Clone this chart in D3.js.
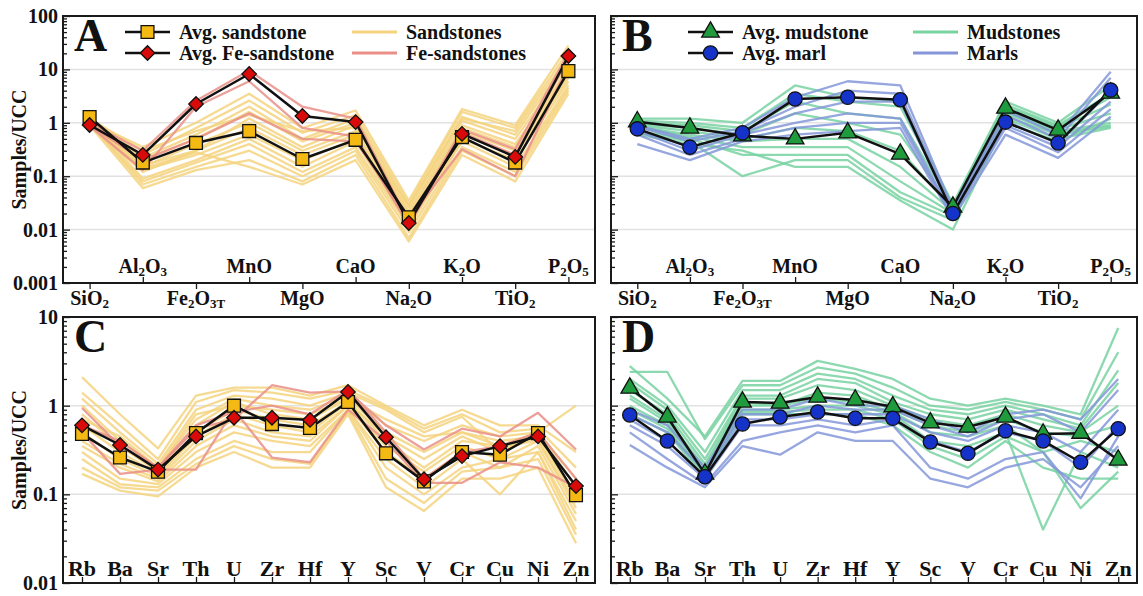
<!DOCTYPE html>
<html lang="en">
<head>
<meta charset="UTF-8">
<title>UCC-normalised spider diagrams</title>
<script src="https://d3js.org/d3.v7.min.js"></script>
<style>
    body { margin: 0; background: #fff; }
    svg text {
        font-family: "Liberation Serif", "Times New Roman", serif;
        font-weight: bold;
        fill: #111;
    }
    .frame { fill: none; stroke: #1a1a1a; stroke-width: 2; }
    .grid line { stroke: #e2e2e2; stroke-width: 1.5; }
    .axis path { display: none; }
    .axis line { stroke: #1a1a1a; stroke-width: 1.3; }
    .sample { fill: none; stroke-width: 2.3; stroke-linejoin: round; }
    .avg-line { fill: none; stroke: #111; stroke-width: 2.5; stroke-linejoin: round; }
    .marker { stroke: #111; stroke-width: 1.3; }
</style>
</head>
<body>
<svg width="1143" height="596"></svg>

<script>
// ---- categories / ticks
var oxides = ["SiO2", "Al2O3", "Fe2O3T", "MnO", "MgO", "CaO", "Na2O", "K2O", "TiO2", "P2O5"];
var traces = ["Rb", "Ba", "Sr", "Th", "U", "Zr", "Hf", "Y", "Sc", "V", "Cr", "Cu", "Ni", "Zn"];
var yTicksMajor = [100, 10, 1, 0.1, 0.01, 0.001];
var yTicksTrace = [10, 1, 0.1, 0.01];

// ---- A: major elements, sandstones
var sandstonesMajor = [
    [1.05, 0.35, 1.0, 3.5, 0.8, 1.7, 0.035, 1.8, 0.9, 28],
    [1.1, 0.25, 0.8, 2.6, 0.65, 1.4, 0.03, 1.6, 0.8, 22],
    [1.0, 0.22, 0.6, 2.0, 0.5, 1.2, 0.026, 1.3, 0.6, 15],
    [0.95, 0.2, 0.5, 1.6, 0.45, 1.0, 0.022, 1.1, 0.5, 12],
    [1.15, 0.16, 0.3, 1.2, 0.35, 0.9, 0.02, 0.9, 0.4, 10],
    [1.0, 0.15, 0.4, 1.0, 0.3, 0.7, 0.018, 0.8, 0.35, 9],
    [0.9, 0.12, 0.3, 0.8, 0.25, 0.6, 0.015, 0.7, 0.3, 8],
    [1.05, 0.13, 0.25, 0.6, 0.2, 0.5, 0.014, 0.6, 0.25, 7],
    [1.1, 0.09, 0.2, 0.5, 0.15, 0.45, 0.012, 0.5, 0.2, 6],
    [0.95, 0.08, 0.18, 0.4, 0.12, 0.35, 0.011, 0.45, 0.15, 5],
    [1.0, 0.07, 0.15, 0.3, 0.1, 0.3, 0.009, 0.35, 0.12, 4.5],
    [0.9, 0.06, 0.13, 0.2, 0.08, 0.25, 0.007, 0.3, 0.1, 4],
    [1.2, 0.3, 0.7, 1.4, 0.7, 0.8, 0.028, 1.2, 0.7, 18],
    [0.85, 0.14, 0.28, 0.15, 0.07, 0.2, 0.006, 0.25, 0.08, 3.5]
];
var feSandstonesMajor = [
    [1.0, 0.3, 2.6, 9.5, 2.0, 1.2, 0.014, 0.75, 0.32, 20],
    [0.88, 0.13, 2.0, 6.0, 0.8, 0.55, 0.012, 0.65, 0.25, 16],
    [0.9, 0.2, 0.5, 1.5, 0.5, 0.45, 0.016, 0.32, 0.1, 12]
];
var avgSandstoneMajor = [1.28, 0.18, 0.42, 0.70, 0.21, 0.48, 0.017, 0.54, 0.18, 9.3];
var avgFeSandstoneMajor = [0.91, 0.25, 2.25, 8.2, 1.34, 1.03, 0.0133, 0.62, 0.23, 17.8];

// ---- B: major elements, mudstones and marls
var mudstonesMajor = [
    [1.2, 1.2, 1.0, 5.0, 3.0, 2.5, 0.03, 2.5, 1.0, 5.0],
    [1.1, 1.0, 0.8, 3.5, 2.5, 2.0, 0.028, 2.2, 0.9, 3.5],
    [1.0, 0.9, 0.7, 2.5, 1.5, 1.2, 0.026, 2.0, 0.85, 3.0],
    [0.95, 0.8, 0.6, 1.5, 1.0, 0.6, 0.025, 1.8, 0.8, 2.2],
    [0.9, 0.7, 0.5, 0.8, 0.7, 0.3, 0.024, 1.7, 0.75, 1.5],
    [0.85, 0.6, 0.45, 0.5, 0.5, 0.15, 0.022, 1.6, 0.7, 1.0],
    [0.8, 0.55, 0.35, 0.35, 0.35, 0.08, 0.02, 1.5, 0.65, 0.9],
    [0.7, 0.5, 0.25, 0.25, 0.25, 0.05, 0.018, 1.3, 0.6, 0.85],
    [0.65, 0.45, 0.1, 0.2, 0.2, 0.04, 0.015, 1.2, 0.5, 0.8],
    [0.6, 0.4, 0.3, 0.15, 0.15, 0.035, 0.01, 1.0, 0.45, 1.2]
];
var marlsMajor = [
    [0.9, 0.5, 0.8, 3.0, 6.0, 5.0, 0.025, 1.7, 0.6, 9.0],
    [0.85, 0.45, 0.7, 2.0, 4.0, 3.5, 0.022, 1.4, 0.5, 7.0],
    [0.75, 0.35, 0.65, 1.5, 2.5, 2.5, 0.02, 1.1, 0.4, 4.0],
    [0.7, 0.3, 0.6, 1.0, 1.5, 1.2, 0.019, 0.9, 0.35, 2.5],
    [0.6, 0.25, 0.5, 0.8, 1.0, 1.0, 0.018, 0.8, 0.28, 1.8],
    [0.4, 0.2, 0.45, 0.6, 0.7, 0.8, 0.016, 0.6, 0.22, 1.3]
];
var avgMudstoneMajor = [1.05, 0.80, 0.57, 0.50, 0.65, 0.26, 0.0265, 1.89, 0.73, 3.6];
var avgMarlMajor = [0.77, 0.35, 0.65, 2.8, 3.0, 2.7, 0.020, 1.03, 0.42, 4.1];

// ---- C: trace elements, sandstones
var sandstonesTrace = [
    [2.1, 0.8, 0.33, 1.3, 1.6, 1.6, 1.3, 1.7, 1.0, 0.6, 0.9, 0.6, 0.6, 0.3],
    [1.4, 0.6, 0.25, 1.1, 1.5, 1.4, 1.2, 1.5, 0.95, 0.55, 0.8, 0.5, 0.55, 0.2],
    [1.2, 0.5, 0.22, 0.9, 1.3, 1.2, 1.0, 1.4, 0.9, 0.5, 0.75, 0.3, 0.5, 0.15],
    [1.0, 0.4, 0.2, 0.7, 1.2, 1.0, 0.9, 1.3, 0.6, 0.4, 0.6, 0.45, 0.5, 0.12],
    [0.8, 0.35, 0.18, 0.6, 1.1, 0.8, 0.7, 1.2, 0.5, 0.3, 0.5, 0.4, 0.45, 0.1],
    [0.6, 0.3, 0.17, 0.5, 0.9, 0.7, 0.6, 1.1, 0.45, 0.25, 0.45, 0.3, 0.45, 0.09],
    [0.5, 0.25, 0.16, 0.45, 0.8, 0.6, 0.5, 1.1, 0.4, 0.2, 0.4, 0.35, 0.4, 0.08],
    [0.4, 0.22, 0.15, 0.4, 0.7, 0.5, 0.45, 1.0, 0.35, 0.18, 0.35, 0.25, 0.4, 0.07],
    [0.35, 0.2, 0.14, 0.35, 0.6, 0.45, 0.4, 1.0, 0.3, 0.15, 0.3, 0.2, 0.35, 0.06],
    [0.3, 0.15, 0.13, 0.3, 0.5, 0.4, 0.35, 0.9, 0.25, 0.12, 0.25, 0.1, 0.3, 0.05],
    [0.25, 0.13, 0.12, 0.25, 0.4, 0.3, 0.3, 0.9, 0.2, 0.1, 0.2, 0.25, 0.3, 0.04],
    [0.2, 0.12, 0.11, 0.22, 0.35, 0.25, 0.22, 0.85, 0.15, 0.08, 0.18, 0.2, 0.25, 0.035],
    [0.17, 0.11, 0.095, 0.2, 0.3, 0.2, 0.2, 0.8, 0.12, 0.065, 0.15, 0.15, 0.2, 0.028],
    [0.7, 0.45, 0.2, 0.8, 1.0, 0.9, 0.8, 1.2, 0.7, 0.45, 0.5, 0.35, 0.5, 1.0]
];
var feSandstonesTrace = [
    [0.94, 0.35, 0.2, 0.55, 0.7, 1.7, 1.4, 1.45, 0.6, 0.32, 0.55, 0.45, 0.83, 0.32],
    [0.5, 0.17, 0.19, 0.19, 0.9, 0.26, 0.23, 0.9, 0.4, 0.135, 0.135, 0.23, 0.2, 0.12],
    [0.6, 0.4, 0.2, 0.6, 0.85, 1.0, 0.8, 1.5, 0.5, 0.15, 0.3, 0.35, 0.5, 0.15]
];
var avgSandstoneTrace = [0.48, 0.26, 0.18, 0.49, 1.0, 0.62, 0.56, 1.1, 0.29, 0.14, 0.30, 0.28, 0.49, 0.098];
var avgFeSandstoneTrace = [0.60, 0.36, 0.19, 0.45, 0.73, 0.73, 0.69, 1.43, 0.44, 0.148, 0.27, 0.35, 0.45, 0.124];

// ---- D: trace elements, mudstones and marls
var mudstonesTrace = [
    [2.8, 1.2, 0.45, 1.9, 1.9, 3.2, 2.6, 2.0, 1.2, 1.0, 1.2, 1.0, 0.8, 7.5],
    [2.4, 2.4, 0.42, 1.7, 1.7, 2.7, 2.3, 1.6, 1.0, 0.9, 1.1, 0.9, 0.7, 4.0],
    [2.0, 1.0, 0.3, 1.5, 1.5, 2.3, 2.0, 1.3, 0.9, 0.8, 1.0, 0.8, 0.6, 2.5],
    [1.8, 0.9, 0.25, 1.3, 1.3, 2.0, 1.8, 1.1, 0.8, 0.7, 0.9, 0.7, 0.55, 1.8],
    [1.5, 0.8, 0.22, 1.2, 1.2, 1.7, 1.5, 1.0, 0.7, 0.6, 0.8, 0.6, 0.5, 1.0],
    [1.3, 0.7, 0.2, 1.1, 1.0, 1.4, 1.3, 0.9, 0.6, 0.5, 0.7, 0.5, 0.45, 0.6],
    [1.2, 0.65, 0.18, 1.0, 1.0, 1.2, 1.1, 0.85, 0.5, 0.45, 0.6, 0.3, 0.4, 0.3],
    [1.0, 0.6, 0.17, 0.9, 0.9, 1.0, 1.0, 0.8, 0.4, 0.35, 0.5, 0.04, 0.3, 0.2],
    [0.9, 0.55, 0.16, 0.85, 0.85, 0.9, 0.9, 0.7, 0.35, 0.25, 0.45, 0.3, 0.07, 0.18],
    [0.8, 0.5, 0.15, 0.8, 0.8, 0.8, 0.8, 0.6, 0.3, 0.2, 0.4, 0.2, 0.15, 0.15]
];
var marlsTrace = [
    [0.9, 0.6, 0.2, 0.9, 0.9, 1.2, 1.0, 1.0, 0.7, 0.5, 0.8, 0.9, 0.7, 2.0],
    [0.8, 0.5, 0.18, 0.8, 0.8, 1.0, 0.9, 0.9, 0.6, 0.45, 0.7, 0.8, 0.5, 1.5],
    [0.7, 0.4, 0.16, 0.7, 0.7, 0.8, 0.8, 0.8, 0.5, 0.4, 0.6, 0.5, 0.3, 0.9],
    [0.6, 0.35, 0.15, 0.6, 0.6, 0.7, 0.6, 0.7, 0.4, 0.3, 0.5, 0.4, 0.2, 0.6],
    [0.5, 0.25, 0.13, 0.4, 0.5, 0.6, 0.5, 0.6, 0.2, 0.15, 0.25, 0.3, 0.09, 0.45],
    [0.36, 0.2, 0.12, 0.35, 0.28, 0.5, 0.4, 0.4, 0.15, 0.12, 0.2, 0.25, 0.12, 0.35]
];
var avgMudstoneTrace = [1.58, 0.745, 0.17, 1.1, 1.07, 1.25, 1.16, 0.97, 0.64, 0.575, 0.745, 0.48, 0.49, 0.244];
var avgMarlTrace = [0.785, 0.40, 0.158, 0.62, 0.745, 0.85, 0.72, 0.72, 0.39, 0.29, 0.52, 0.40, 0.23, 0.55];

// ---- colours
var cSand = "#f5d47f", cFeSand = "#e98f88", cMud = "#78d2a2", cMarl = "#8496d9";
var fillSquare = "#f5b914", fillDiamond = "#d90a0a", fillTriangle = "#1f9a3c", fillCircle = "#1633c9";

var svg = d3.select("svg");

// marker shapes
var markers = {
    square: { path: d3.symbol(d3.symbolSquare, 165)(), rot: 0 },
    diamond: { path: d3.symbol(d3.symbolSquare, 105)(), rot: 45 },
    triangle: { path: d3.symbol(d3.symbolTriangle, 135)(), rot: 0 },
    circle: { path: d3.symbol(d3.symbolCircle, 160)(), rot: 0 }
};

// writes chemical formulas with subscripted digits (Al2O3, Fe2O3T ...)
function chemLabel(text, s) {
    var parts = s.split(/(\d+T?)/).filter(function(p) { return p.length; });
    var shifted = false;
    parts.forEach(function(p) {
        var sub = /^\d/.test(p);
        var t = text.append("tspan").text(p);
        if (sub) { t.style("font-size", "13px").attr("dy", 3); shifted = true; }
        else if (shifted) { t.attr("dy", -3); shifted = false; }
    });
}

function drawPanel(cfg) {
    var g = svg.append("g");
    var x = d3.scalePoint().domain(cfg.cats).range([cfg.left, cfg.right]).padding(0.5);
    var y = d3.scaleLog().domain(cfg.yDomain).range([cfg.bottom, cfg.top]);

    var decades = cfg.yTicks;
    var minor = [];
    decades.forEach(function(d) {
        if (d >= cfg.yDomain[1]) return;
        for (var k = 2; k <= 9; k++) minor.push(+(k * d).toPrecision(3));
    });

    // gridlines
    g.append("g").attr("class", "grid")
        .selectAll("line")
        .data(decades.filter(function(d) { return d > cfg.yDomain[0] && d < cfg.yDomain[1]; }))
        .join("line")
        .attr("x1", cfg.left).attr("x2", cfg.right)
        .attr("y1", function(d) { return y(d); })
        .attr("y2", function(d) { return y(d); });

    var line = d3.line()
        .x(function(d, i) { return x(cfg.cats[i]); })
        .y(function(d) { return y(d); });

    // individual samples
    cfg.groups.forEach(function(grp) {
        g.append("g").selectAll("path")
            .data(grp.rows)
            .join("path")
            .attr("class", "sample")
            .attr("stroke", grp.color)
            .attr("stroke-opacity", 0.85)
            .attr("d", line);
    });

    // average lines, then markers on top
    cfg.avgs.forEach(function(a) {
        g.append("path").attr("class", "avg-line").attr("d", line(a.values));
    });
    cfg.avgs.forEach(function(a) {
        g.append("g").selectAll("path")
            .data(a.values)
            .join("path")
            .attr("class", "marker")
            .attr("fill", a.fill)
            .attr("d", markers[a.shape].path)
            .attr("transform", function(d, i) {
                return "translate(" + x(cfg.cats[i]) + "," + y(d) + ") rotate(" + markers[a.shape].rot + ")";
            });
    });

    // frame
    g.append("rect").attr("class", "frame")
        .attr("x", cfg.left).attr("y", cfg.top)
        .attr("width", cfg.right - cfg.left).attr("height", cfg.bottom - cfg.top);

    // y axis: minor and major ticks pointing inside
    g.append("g").attr("class", "axis")
        .attr("transform", "translate(" + cfg.left + ",0)")
        .call(d3.axisLeft(y).tickValues(minor).tickSize(-4).tickFormat(function() { return ""; }));
    var yAxis = g.append("g").attr("class", "axis")
        .attr("transform", "translate(" + cfg.left + ",0)")
        .call(d3.axisLeft(y).tickValues(decades).tickSize(-7).tickPadding(5)
            .tickFormat(function(d) { return cfg.showY ? String(d) : ""; }));
    yAxis.selectAll("text").style("font-size", "20px");

    // x axis ticks: inward where the label sits inside, outward where it sits below
    var inside = cfg.cats.filter(function(c, i) { return !cfg.alternate || i % 2 === 1; });
    var outside = cfg.cats.filter(function(c, i) { return cfg.alternate && i % 2 === 0; });
    g.append("g").attr("class", "axis")
        .attr("transform", "translate(0," + cfg.bottom + ")")
        .call(d3.axisBottom(x).tickValues(inside).tickSize(-6).tickFormat(function() { return ""; }));
    if (outside.length) {
        g.append("g").attr("class", "axis")
            .attr("transform", "translate(0," + cfg.bottom + ")")
            .call(d3.axisBottom(x).tickValues(outside).tickSize(6).tickFormat(function() { return ""; }));
    }

    // category labels
    cfg.cats.forEach(function(c, i) {
        var out = cfg.alternate && i % 2 === 0;
        var t = g.append("text")
            .attr("x", x(c))
            .attr("y", out ? cfg.bottom + 22 : cfg.bottom - cfg.insideOffset)
            .attr("text-anchor", "middle")
            .style("font-size", cfg.labelSize + "px");
        chemLabel(t, c);
    });

    // panel letter
    g.append("text")
        .attr("x", cfg.left + 11).attr("y", cfg.top + 35)
        .style("font-size", "46px")
        .text(cfg.letter);

    // y title
    if (cfg.showY) {
        g.append("text")
            .attr("transform", "translate(19," + ((cfg.top + cfg.bottom) / 2) + ") rotate(-90)")
            .attr("text-anchor", "middle")
            .attr("dy", "0.35em")
            .style("font-size", "20px")
            .text("Samples/UCC");
    }

    // legend
    if (cfg.legend) {
        cfg.legend.forEach(function(item) {
            var ly = cfg.top + item.row;
            var lg = g.append("g");
            lg.append("line")
                .attr("x1", cfg.left + item.x).attr("x2", cfg.left + item.x + 45)
                .attr("y1", ly).attr("y2", ly)
                .attr("stroke", item.color || "#111")
                .attr("stroke-width", item.shape ? 2.5 : 3);
            if (item.shape) {
                lg.append("path").attr("class", "marker")
                    .attr("fill", item.fill)
                    .attr("d", markers[item.shape].path)
                    .attr("transform", "translate(" + (cfg.left + item.x + 22.5) + "," + ly + ") rotate(" + markers[item.shape].rot + ")");
            }
            lg.append("text")
                .attr("x", cfg.left + item.x + 54)
                .attr("y", ly + 7)
                .style("font-size", "20px")
                .text(item.label);
        });
    }
}

// A
drawPanel({
    letter: "A", left: 63, right: 595, top: 16, bottom: 283,
    cats: oxides, yDomain: [0.001, 100], yTicks: yTicksMajor, showY: true,
    alternate: true, insideOffset: 10, labelSize: 20,
    groups: [{ rows: sandstonesMajor, color: cSand }, { rows: feSandstonesMajor, color: cFeSand }],
    avgs: [
        { values: avgSandstoneMajor, shape: "square", fill: fillSquare },
        { values: avgFeSandstoneMajor, shape: "diamond", fill: fillDiamond }
    ],
    legend: [
        { x: 62, row: 16, label: "Avg. sandstone", shape: "square", fill: fillSquare },
        { x: 62, row: 37, label: "Avg. Fe-sandstone", shape: "diamond", fill: fillDiamond },
        { x: 289, row: 16, label: "Sandstones", color: cSand },
        { x: 289, row: 37, label: "Fe-sandstones", color: cFeSand }
    ]
});

// B
drawPanel({
    letter: "B", left: 611, right: 1137, top: 16, bottom: 283,
    cats: oxides, yDomain: [0.001, 100], yTicks: yTicksMajor, showY: false,
    alternate: true, insideOffset: 10, labelSize: 20,
    groups: [{ rows: mudstonesMajor, color: cMud }, { rows: marlsMajor, color: cMarl }],
    avgs: [
        { values: avgMudstoneMajor, shape: "triangle", fill: fillTriangle },
        { values: avgMarlMajor, shape: "circle", fill: fillCircle }
    ],
    legend: [
        { x: 77, row: 16, label: "Avg. mudstone", shape: "triangle", fill: fillTriangle },
        { x: 77, row: 37, label: "Avg. marl", shape: "circle", fill: fillCircle },
        { x: 302, row: 16, label: "Mudstones", color: cMud },
        { x: 302, row: 37, label: "Marls", color: cMarl }
    ]
});

// C
drawPanel({
    letter: "C", left: 63, right: 595, top: 317, bottom: 583,
    cats: traces, yDomain: [0.01, 10], yTicks: yTicksTrace, showY: true,
    alternate: false, insideOffset: 7, labelSize: 22,
    groups: [{ rows: sandstonesTrace, color: cSand }, { rows: feSandstonesTrace, color: cFeSand }],
    avgs: [
        { values: avgSandstoneTrace, shape: "square", fill: fillSquare },
        { values: avgFeSandstoneTrace, shape: "diamond", fill: fillDiamond }
    ]
});

// D
drawPanel({
    letter: "D", left: 611, right: 1137, top: 317, bottom: 583,
    cats: traces, yDomain: [0.01, 10], yTicks: yTicksTrace, showY: false,
    alternate: false, insideOffset: 7, labelSize: 22,
    groups: [{ rows: mudstonesTrace, color: cMud }, { rows: marlsTrace, color: cMarl }],
    avgs: [
        { values: avgMudstoneTrace, shape: "triangle", fill: fillTriangle },
        { values: avgMarlTrace, shape: "circle", fill: fillCircle }
    ]
});
</script>
</body>
</html>
